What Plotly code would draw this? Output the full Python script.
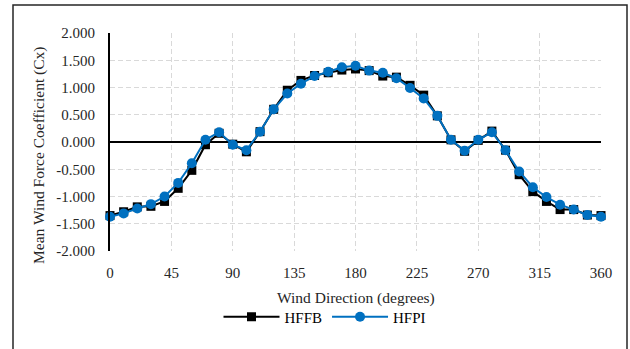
import plotly.graph_objects as go

directions = list(range(0, 361, 10))
hffb = [-1.35, -1.28, -1.19, -1.18, -1.09, -0.85, -0.52, -0.05, 0.16, -0.04,
        -0.18, 0.19, 0.60, 0.95, 1.13, 1.22, 1.27, 1.32, 1.34, 1.31,
        1.21, 1.19, 1.04, 0.86, 0.48, 0.04, -0.17, 0.03, 0.20, -0.15,
        -0.60, -0.91, -1.09, -1.24, -1.24, -1.34, -1.35]
hfpi = [-1.37, -1.31, -1.22, -1.14, -1.00, -0.75, -0.39, 0.04, 0.18, -0.05,
        -0.15, 0.19, 0.60, 0.89, 1.07, 1.21, 1.29, 1.37, 1.40, 1.31,
        1.27, 1.17, 0.99, 0.80, 0.48, 0.04, -0.16, 0.04, 0.18, -0.15,
        -0.54, -0.83, -1.01, -1.15, -1.24, -1.34, -1.37]
x_ticks = [0, 45, 90, 135, 180, 225, 270, 315, 360]
y_ticks = [-2.0, -1.5, -1.0, -0.5, 0.0, 0.5, 1.0, 1.5, 2.0]

FONT = "Liberation Serif"
BLUE = "#0070C0"

fig = go.Figure()
fig.add_trace(go.Scatter(
    x=directions, y=hffb, name="HFFB", mode="lines+markers",
    line=dict(color="black", width=2),
    marker=dict(symbol="square", size=9, color="black"),
    cliponaxis=False,
))
fig.add_trace(go.Scatter(
    x=directions, y=hfpi, name="HFPI", mode="lines+markers",
    line=dict(color=BLUE, width=2),
    marker=dict(symbol="circle", size=10, color=BLUE),
    cliponaxis=False,
))

L, R, T, B = 110, 29, 33, 98
PW, PH = 630 - L - R, 349 - T - B

fig.update_layout(
    width=630, height=349,
    margin=dict(l=L, r=R, t=T, b=B, pad=0),
    paper_bgcolor="white", plot_bgcolor="white",
    font=dict(family=FONT, size=15, color="#262626"),
    showlegend=True,
    legend=dict(
        orientation="h", x=(325 - L) / PW, xanchor="center",
        y=(251 - 317) / PH, yanchor="middle",
        font=dict(family=FONT, size=15, color="black"),
        bgcolor="rgba(0,0,0,0)", itemwidth=56,
    ),
    xaxis=dict(
        range=[0, 360], tickvals=x_ticks, ticktext=[str(v) for v in x_ticks],
        showgrid=True, gridcolor="#d9d9d9", griddash="5px,3px", gridwidth=1.2,
        zeroline=False, showline=False,
        ticks="outside", ticklen=8, tickcolor="rgba(0,0,0,0)",
        tickfont=dict(family=FONT, size=15, color="#262626"),
        fixedrange=True,
    ),
    yaxis=dict(
        range=[-2, 2], tickvals=y_ticks, ticktext=[f"{v:.3f}" for v in y_ticks],
        showgrid=True, gridcolor="#d9d9d9", griddash="5px,3px", gridwidth=1.2,
        zeroline=True, zerolinecolor="black", zerolinewidth=1.5,
        showline=True, linecolor="black", linewidth=2,
        ticks="outside", ticklen=10, tickcolor="rgba(0,0,0,0)",
        tickfont=dict(family=FONT, size=15, color="#262626"),
        fixedrange=True,
    ),
    annotations=[
        dict(text="Wind Direction (degrees)", xref="paper", yref="paper",
             x=0.5, y=(251 - 298) / PH, xanchor="center", yanchor="middle",
             showarrow=False, font=dict(family=FONT, size=15.5, color="#262626")),
        dict(text="Mean Wind Force Coefficient (Cx)", xref="paper", yref="paper",
             x=(39 - L) / PW, y=(251 - 156) / PH, xanchor="center", yanchor="middle",
             textangle=-90, showarrow=False,
             font=dict(family=FONT, size=15.5, color="#262626")),
    ],
    shapes=[
        dict(type="rect", xref="paper", yref="paper",
             x0=(13 - L) / PW, x1=(627 - L) / PW,
             y0=(251 - 356) / PH, y1=(251 - 5) / PH,
             line=dict(color="#262626", width=1.5), fillcolor="rgba(0,0,0,0)",
             layer="below"),
    ],
)

fig.write_html(
    "out.html",
    config={"displayModeBar": False},
    post_script="document.body.style.margin='0';document.body.style.overflow='hidden';",
)
